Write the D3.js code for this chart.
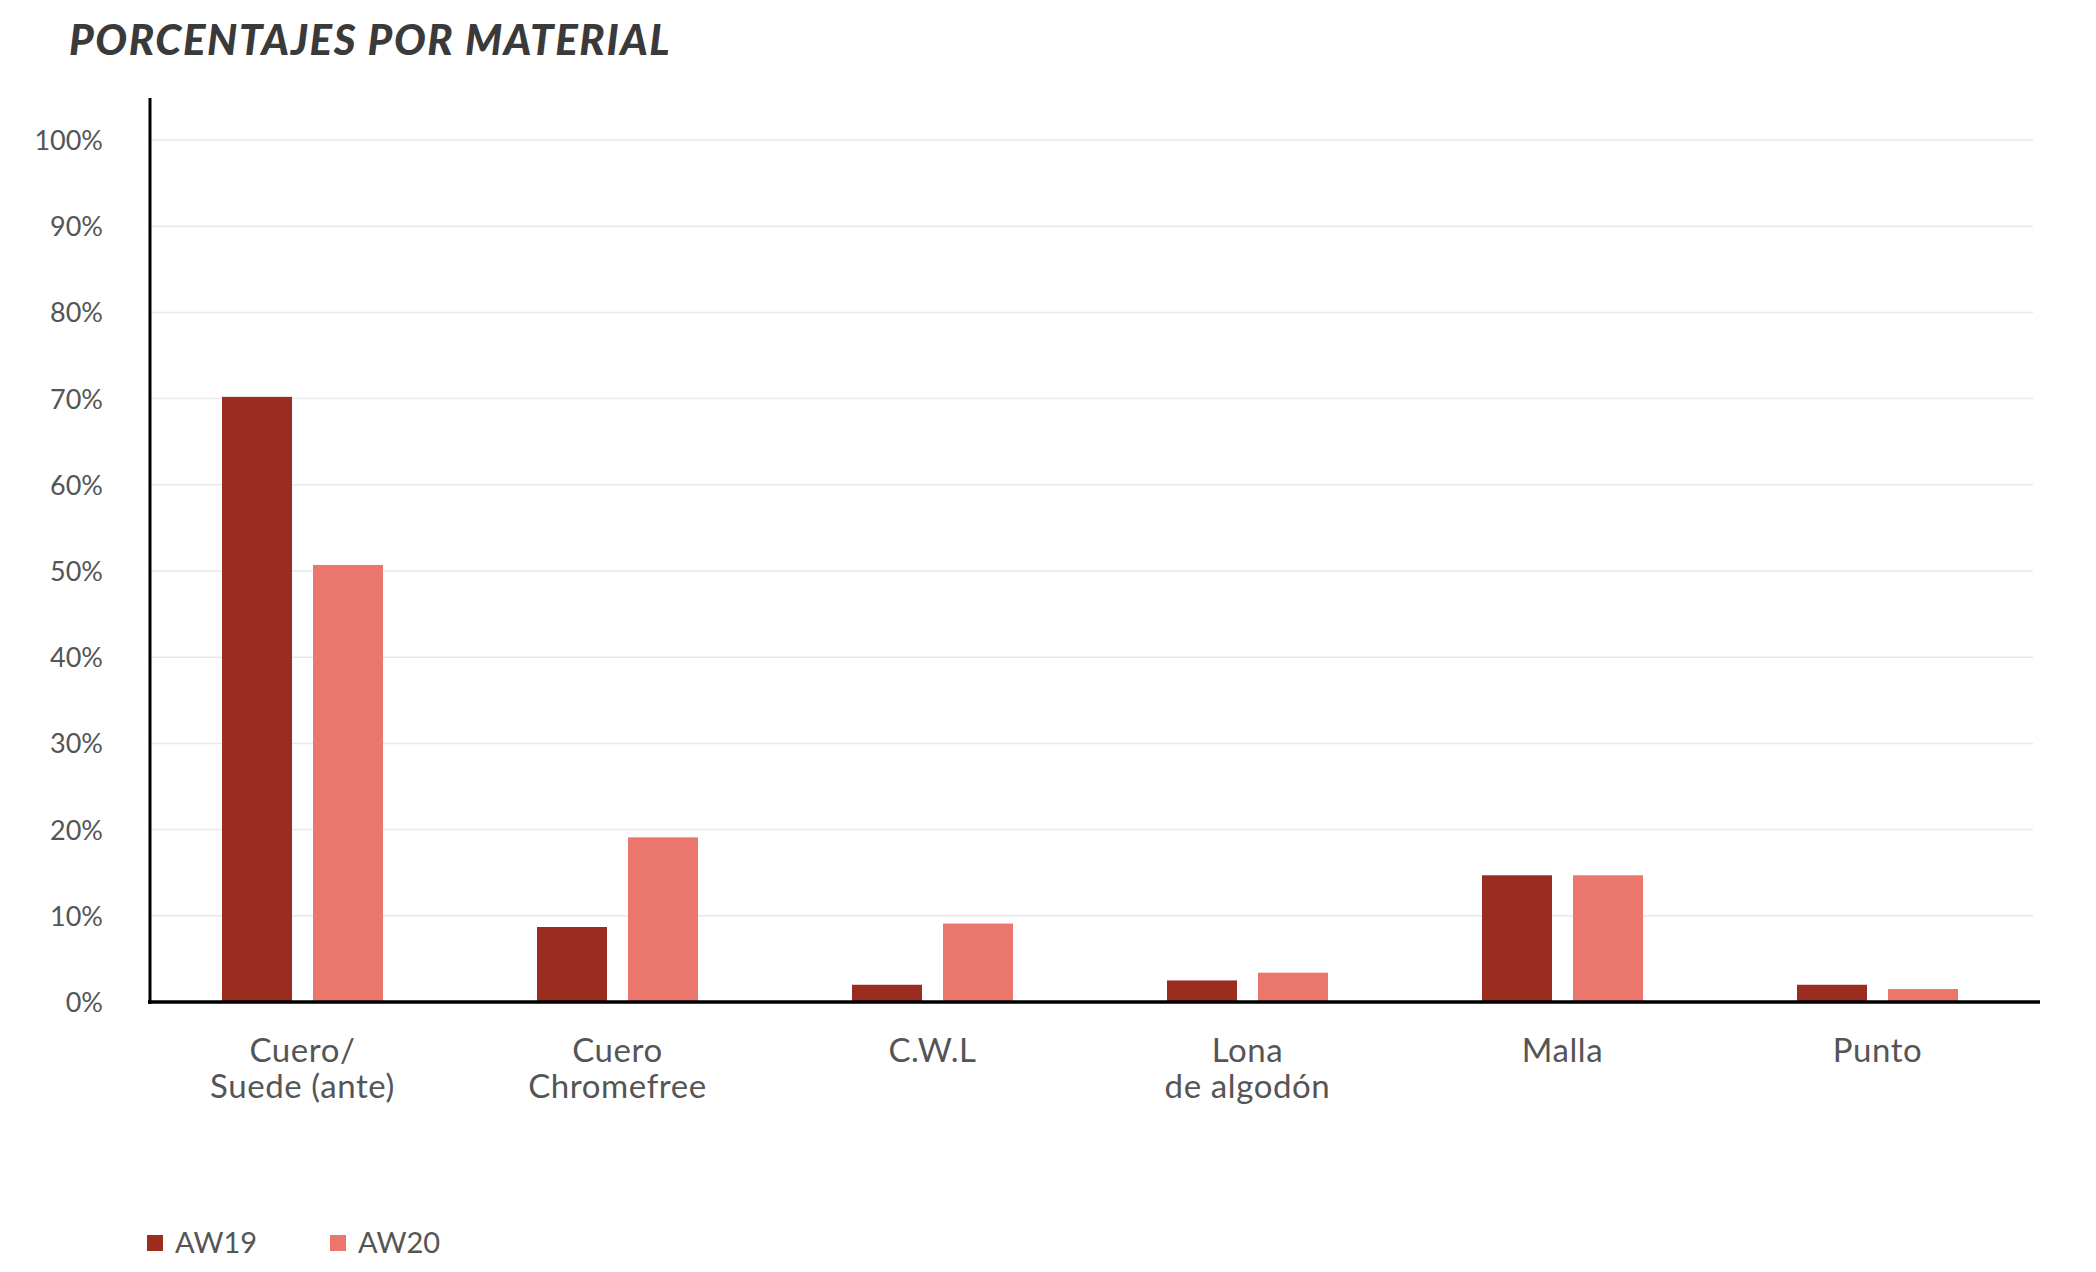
<!DOCTYPE html>
<html>
<head>
<meta charset="utf-8">
<script src="https://cdn.jsdelivr.net/npm/d3@7"></script>
<style>
  body { margin: 0; background: #fff; }
  text { font-family: Lato, "Open Sans", sans-serif; }
</style>
</head>
<body>
<div id="chart"></div>
<script>
// chart data
var categories = [["Cuero/", "Suede (ante)"], ["Cuero", "Chromefree"], ["C.W.L"], ["Lona", "de algodón"], ["Malla"], ["Punto"]];
var seriesNames = ["AW19", "AW20"];
var aw19 = [70.2, 8.7, 2.0, 2.5, 14.7, 2.0];
var aw20 = [50.7, 19.1, 9.1, 3.4, 14.7, 1.5];
var yTicks = [0, 10, 20, 30, 40, 50, 60, 70, 80, 90, 100];
var colors = ["#9b2c20", "#eb766c"];

var width = 2096, height = 1272;
var margin = { top: 140, right: 56, bottom: 270, left: 150 };

var svg = d3.select("#chart").append("svg")
    .attr("width", width)
    .attr("height", height);

// title
svg.append("text")
    .attr("x", 69)
    .attr("y", 55)
    .style("font-size", "42px")
    .style("font-weight", 900)
    .style("font-style", "italic")
    .style("letter-spacing", "1.6px")
    .style("fill", "#3a3a3a")
    .text("PORCENTAJES POR MATERIAL");

var x = d3.scaleBand()
    .domain(d3.range(categories.length))
    .range([margin.left, width - margin.right])
    .paddingInner(0)
    .paddingOuter(0);

var y = d3.scaleLinear()
    .domain([0, 100])
    .range([1002, margin.top]);

// gridlines
svg.append("g")
    .selectAll("line")
    .data(yTicks.slice(1))
    .enter().append("line")
    .attr("x1", margin.left)
    .attr("x2", width - margin.right - 7)
    .attr("y1", function (d) { return y(d); })
    .attr("y2", function (d) { return y(d); })
    .style("stroke", "#e9e9e9")
    .style("stroke-width", 1.5);

// y tick labels
var yAxis = d3.axisLeft(y)
    .tickValues(yTicks)
    .tickSize(0)
    .tickPadding(0)
    .tickFormat(function (d) { return d + "%"; });

var yg = svg.append("g")
    .attr("transform", "translate(103,0)")
    .call(yAxis);
yg.select(".domain").remove();
yg.selectAll("text")
    .style("font-size", "27px")
    .style("fill", "#555")
    .attr("dy", "0.35em");

// bars
var barW = 70, gap = 21;
var series = [aw19, aw20];
series.forEach(function (vals, s) {
    svg.append("g")
        .selectAll("rect")
        .data(vals)
        .enter().append("rect")
        .attr("x", function (d, i) {
            var c = x(i) + x.bandwidth() / 2 - 5;
            return s === 0 ? c - gap / 2 - barW : c + gap / 2;
        })
        .attr("y", function (d) { return y(d); })
        .attr("width", barW)
        .attr("height", function (d) { return y(0) - y(d); })
        .style("fill", colors[s]);
});

// axis lines
svg.append("line")
    .attr("x1", margin.left).attr("x2", margin.left)
    .attr("y1", 98).attr("y2", y(0) + 2)
    .style("stroke", "#000").style("stroke-width", 3);
svg.append("line")
    .attr("x1", margin.left - 2).attr("x2", width - margin.right)
    .attr("y1", y(0)).attr("y2", y(0))
    .style("stroke", "#000").style("stroke-width", 3.5);

// category labels
var labels = svg.append("g")
    .selectAll("text")
    .data(categories)
    .enter().append("text")
    .attr("text-anchor", "middle")
    .attr("x", function (d, i) { return x(i) + x.bandwidth() / 2 - 5; })
    .attr("y", 1062)
    .style("font-size", "33px")
    .style("letter-spacing", "0.6px")
    .style("fill", "#555");
labels.selectAll("tspan")
    .data(function (d) { return d; })
    .enter().append("tspan")
    .attr("x", function () { return d3.select(this.parentNode).attr("x"); })
    .attr("dy", function (d, i) { return i === 0 ? 0 : "1.1em"; })
    .text(function (d) { return d; });

// legend
var legend = svg.append("g")
    .selectAll("g")
    .data(seriesNames)
    .enter().append("g")
    .attr("transform", function (d, i) { return "translate(" + (147 + i * 183) + ",1235)"; });
legend.append("rect")
    .attr("width", 16).attr("height", 16)
    .style("fill", function (d, i) { return colors[i]; });
legend.append("text")
    .attr("x", 28)
    .attr("y", 8)
    .attr("dy", "0.36em")
    .style("font-size", "29px")
    .style("fill", "#555")
    .text(function (d) { return d; });
</script>
</body>
</html>
